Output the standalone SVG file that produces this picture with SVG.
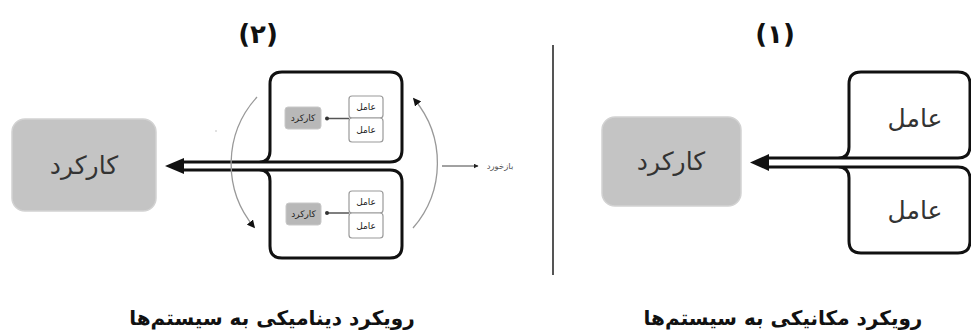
<svg xmlns="http://www.w3.org/2000/svg" width="971" height="333" viewBox="0 0 971 333">
<style>
text{font-family:"DejaVu Sans",sans-serif;text-anchor:middle;direction:rtl}
.title{font-size:26px;font-weight:bold;fill:#111}
.cap{font-size:20px;font-weight:bold;fill:#111}
.big{font-size:25px;fill:#333}
.frame{fill:none;stroke:#111;stroke-width:3;stroke-linejoin:round}
.gbox{fill:#c4c4c4;stroke:#d2d2d2;stroke-width:1.5}
.sbox{fill:#fff;stroke:#9a9a9a;stroke-width:1.2}
.skk{fill:#b8b8b8;stroke:#c8c8c8;stroke-width:1}
.small{font-size:9px;fill:#222}
.link{stroke:#555;stroke-width:1.5}
.fb{fill:none;stroke:#999;stroke-width:1.3}
</style>
<defs>
<marker id="ah" viewBox="0 0 10 10" refX="8" refY="5" markerWidth="8" markerHeight="8" markerUnits="userSpaceOnUse" orient="auto">
<path d="M0,0 L10,5 L0,10 Z" fill="#111"/>
</marker>
<marker id="ahs" viewBox="0 0 10 10" refX="9" refY="5" markerWidth="5" markerHeight="5" markerUnits="userSpaceOnUse" orient="auto">
<path d="M0,0 L10,5 L0,10 Z" fill="#222"/>
</marker>
</defs>

<!-- titles -->
<text class="title" x="258" y="43">(۲)</text>
<text class="title" x="775" y="43">(۱)</text>

<!-- divider -->
<line x1="553" y1="45" x2="553" y2="275" stroke="#555" stroke-width="2"/>

<!-- LEFT: dynamic approach -->
<g id="left-karkard">
<rect class="gbox" x="12" y="119" width="144" height="92" rx="13"/>
<text class="big" x="84" y="174">کارکرد</text>
</g>

<g id="left-top-system">
<path class="frame" d="M182 162 L390 162 Q402 162 402 150 L402 84 Q402 72 390 72 L282 72 Q270 72 270 84 L270 151 Q270 162 259 162"/>
<rect class="skk" x="285" y="107" width="36" height="22" rx="3"/>
<text class="small" x="303" y="121">کارکرد</text>
<rect class="sbox" x="349" y="96" width="34" height="22" rx="3"/>
<text class="small" x="366" y="110">عامل</text>
<rect class="sbox" x="349" y="118" width="34" height="24" rx="3"/>
<text class="small" x="366" y="133">عامل</text>
<line class="link" x1="327" y1="118.5" x2="349" y2="118.5"/>
<circle cx="327" cy="118.5" r="2" fill="#333"/>
</g>

<g id="left-bottom-system">
<path class="frame" d="M182 170 L390 170 Q402 170 402 182 L402 246 Q402 258 390 258 L282 258 Q270 258 270 246 L270 181 Q270 170 259 170"/>
<rect class="skk" x="286" y="203" width="35" height="22" rx="3"/>
<text class="small" x="303.5" y="217">کارکرد</text>
<rect class="sbox" x="349" y="191" width="34" height="22" rx="3"/>
<text class="small" x="366" y="205">عامل</text>
<rect class="sbox" x="349" y="213" width="34" height="25" rx="3"/>
<text class="small" x="366" y="229">عامل</text>
<line class="link" x1="327" y1="213" x2="349" y2="213"/>
<circle cx="327" cy="213" r="2" fill="#333"/>
</g>

<g id="feedback-label">
<text x="500" y="169" style="font-size:8.5px;fill:#555">بازخورد</text>
</g>

<!-- RIGHT: mechanical approach -->
<g id="right-karkard">
<rect class="gbox" x="602" y="117" width="139" height="89" rx="13"/>
<text class="big" x="671" y="170">کارکرد</text>
</g>

<g id="right-top-amel">
<path class="frame" d="M769 158 L958 158 Q970 158 970 146 L970 84 Q970 72 958 72 L861 72 Q849 72 849 84 L849 147 Q849 158 838 158"/>
<text class="big" x="915" y="127">عامل</text>
</g>

<g id="right-bottom-amel">
<path class="frame" d="M769 167 L958 167 Q970 167 970 179 L970 241 Q970 253 958 253 L861 253 Q849 253 849 241 L849 178 Q849 167 838 167"/>
<text class="big" x="915" y="219">عامل</text>
</g>

<!-- connectors -->
<g id="connectors">
<polygon points="165,166 184,158 184,174" fill="#111"/>
<polygon points="750,162.5 769,154 769,171" fill="#111"/>
<path class="fb" d="M257 97 A99 99 0 0 0 254 227" marker-end="url(#ah)"/>
<path class="fb" d="M413 228 A99 99 0 0 0 414 99" marker-end="url(#ah)"/>
<line x1="442" y1="166" x2="478" y2="166" stroke="#444" stroke-width="1" marker-end="url(#ahs)"/>
<circle cx="216" cy="131" r="0.8" fill="#bbb"/>
</g>

<!-- captions -->
<text class="cap" x="272" y="325">رویکرد دینامیکی به سیستم‌ها</text>
<text class="cap" x="783" y="325">رویکرد مکانیکی به سیستم‌ها</text>
</svg>
